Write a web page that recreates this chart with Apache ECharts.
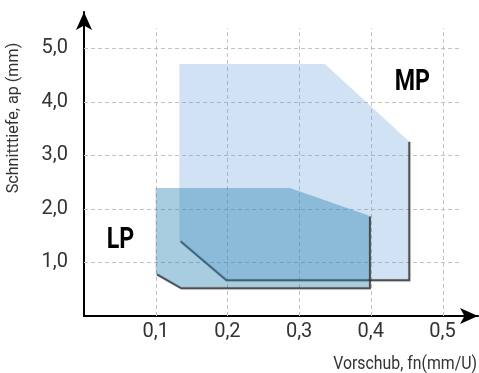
<!DOCTYPE html>
<html>
<head>
<meta charset="utf-8">
<script src="https://cdn.jsdelivr.net/npm/echarts@6/dist/echarts.min.js"></script>
<style>
html,body{margin:0;padding:0;background:#fff;}
#chart{width:479px;height:373px;}
</style>
</head>
<body>
<div id="chart"></div>
<script>
// ---- data ----
const xTickValues = [0.1, 0.2, 0.3, 0.4, 0.5];
const xTickLabels = ['0,1', '0,2', '0,3', '0,4', '0,5'];
const yTickValues = [1, 2, 3, 4, 5];
const yTickLabels = ['1,0', '2,0', '3,0', '4,0', '5,0'];
const regionNames = ['MP', 'LP'];
const mpVertices = [[0.133, 4.71], [0.336, 4.71], [0.452, 3.28], [0.452, 0.69], [0.197, 0.69], [0.133, 1.42]];
const lpVertices = [[0.100, 2.39], [0.287, 2.39], [0.397, 1.88], [0.397, 0.54], [0.134, 0.54], [0.100, 0.80]];
const regionLabelPos = [[0.458, 4.36], [0.051, 1.40]];
const xAxisName = 'Vorschub, fn(mm/U)';
const yAxisName = 'Schnitttiefe, ap (mm)';

// ---- config ----
const FONT = 'Roboto, sans-serif';
const X_MAX = 0.5495, Y_MAX = 5.68;
const GRID_X_END = 0.527, GRID_Y_END = 5.38;

const chart = echarts.init(document.getElementById('chart'), null, {renderer: 'canvas'});

function fmtTick(values, labels) {
  return function (v) {
    for (let i = 0; i < values.length; i++) {
      if (Math.abs(values[i] - v) < 1e-6) return labels[i];
    }
    return '';
  };
}

function gridRender(params, api) {
  if (params.dataIndex !== 0) return null;
  const children = [];
  const style = {stroke: '#c2c2c2', lineWidth: 1, lineDash: [4, 3]};
  xTickValues.forEach(function (x) {
    const a = api.coord([x, 0]), b = api.coord([x, GRID_Y_END]);
    children.push({type: 'line', shape: {x1: Math.round(a[0]) + 0.5, y1: a[1], x2: Math.round(b[0]) + 0.5, y2: b[1]}, style: style});
  });
  yTickValues.forEach(function (y) {
    const a = api.coord([0, y]), b = api.coord([GRID_X_END, y]);
    children.push({type: 'line', shape: {x1: a[0], y1: Math.round(a[1]) + 0.5, x2: b[0], y2: Math.round(b[1]) + 0.5}, style: style});
  });
  return {type: 'group', children: children};
}

function shapeRender(vertices, fill) {
  return function (params, api) {
    if (params.dataIndex !== 0) return null;
    const pts = vertices.map(function (v) { return api.coord(v); });
    const shadowPts = [pts[2], pts[3], pts[4], pts[5]].map(function (p) { return [p[0] + 1.2, p[1] + 1.2]; });
    return {
      type: 'group',
      children: [
        {type: 'polyline', shape: {points: shadowPts}, style: {stroke: 'rgba(55,55,55,0.85)', lineWidth: 2, fill: null, shadowBlur: 1.5, shadowColor: 'rgba(0,0,0,0.3)'}},
        {type: 'polygon', shape: {points: pts}, style: {fill: fill}}
      ]
    };
  };
}

function nameRender(params, api) {
  const p = api.coord([api.value(0), api.value(1)]);
  return {
    type: 'text', x: p[0], y: p[1], scaleX: 0.8,
    style: {text: regionNames[params.dataIndex], fill: '#000', fontSize: 29, fontWeight: 'bold', fontFamily: FONT, align: 'center', verticalAlign: 'middle'}
  };
}

const option = {
  animation: false,
  grid: {left: 84, top: 12, width: 394, bottom: 57, containLabel: false},
  xAxis: {
    type: 'value', min: 0, max: X_MAX, interval: 0.1,
    splitLine: {show: false},
    axisTick: {show: false},
    axisLine: {show: true, lineStyle: {color: '#000', width: 2}, symbol: ['none', 'arrow'], symbolSize: [12, 18]},
    axisLabel: {formatter: fmtTick(xTickValues, xTickLabels), color: '#333', fontSize: 20, fontFamily: FONT, margin: 6, showMaxLabel: false}
  },
  yAxis: {
    type: 'value', min: 0, max: Y_MAX, interval: 1,
    splitLine: {show: false},
    axisTick: {show: false},
    axisLine: {show: true, lineStyle: {color: '#000', width: 2}, symbol: ['none', 'arrow'], symbolSize: [12, 18]},
    axisLabel: {formatter: fmtTick(yTickValues, yTickLabels), color: '#333', fontSize: 20, fontFamily: FONT, margin: 16, showMaxLabel: false}
  },
  series: [
    {type: 'custom', z: 1, silent: true, data: [[0, 0]], renderItem: gridRender},
    {type: 'custom', z: 2, silent: true, data: mpVertices, renderItem: shapeRender(mpVertices, 'rgba(98,158,215,0.3)')},
    {type: 'custom', z: 3, silent: true, data: lpVertices, renderItem: shapeRender(lpVertices, 'rgba(37,127,177,0.4)')},
    {type: 'custom', z: 5, silent: true, data: regionLabelPos, renderItem: nameRender}
  ],
  graphic: [
    {type: 'text', x: 477, y: 364, scaleX: 0.88,
     style: {text: xAxisName, fill: '#333', fontSize: 18, fontFamily: FONT, align: 'right', verticalAlign: 'middle'}},
    {type: 'text', x: 14, y: 118, rotation: Math.PI / 2, scaleX: 0.95,
     style: {text: yAxisName, fill: '#333', fontSize: 17, fontFamily: FONT, align: 'center', verticalAlign: 'middle'}}
  ]
};
chart.setOption(option);
</script>
</body>
</html>
